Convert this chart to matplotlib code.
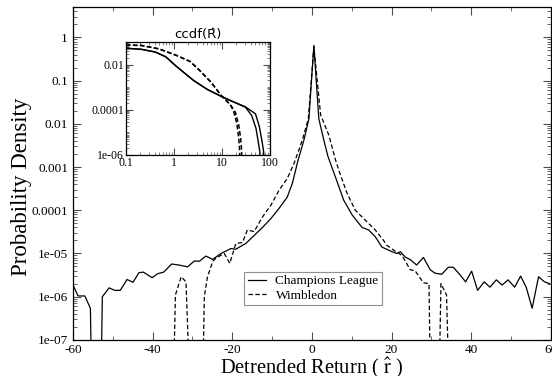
import matplotlib
matplotlib.use("Agg")
import matplotlib.pyplot as plt
from matplotlib.ticker import FixedLocator, FuncFormatter, MultipleLocator, LogLocator, NullFormatter

plt.rcParams['font.family'] = ['Liberation Serif', 'DejaVu Serif']
plt.rcParams['mathtext.fontset'] = 'stix'

FLOOR = 1e-9

# main panel: probability density of detrended returns
cl_x = [-60, -58.7, -57, -55.6, -55.1, -53.1, -52.6, -50.9, -49.5, -48.1, -46.4, -44.9,
        -43.4, -42.3, -40.1, -38.7, -37.2, -35.2, -33.4, -31.2, -29.5, -28.25, -26.6,
        -24.9, -22.8, -20.3, -19.1, -17.4, -16.6, -14.5, -12.4, -10.3, -8.25, -6.2,
        -4.9, -3.5, -2.0, -0.75, 0.5, 1.75, 3.0, 4.0, 5.9, 8.0, 10.1, 12.6, 14.25,
        15.9, 17.6, 18.4, 20.1, 21.3, 22.2, 23.4, 24.7, 26.3, 28.0, 29.7, 30.9, 32.6,
        34.25, 35.5, 37.2, 38.6, 40.1, 41.6, 43.25, 44.7, 46.3, 47.75, 49.25, 50.9,
        52.4, 53.8, 55.3, 56.9, 58.4, 59.7]
cl_y = [1.9e-6, 1.04e-6, 1.04e-6, 5.4e-7, FLOOR, FLOOR, 1.0e-6, 1.6e-6, 1.4e-6, 1.4e-6,
        2.5e-6, 2.15e-6, 3.6e-6, 3.7e-6, 2.75e-6, 3.4e-6, 3.7e-6, 5.7e-6, 5.4e-6, 4.9e-6,
        6.7e-6, 6.6e-6, 8.7e-6, 7.3e-6, 1.0e-5, 1.3e-5, 1.25e-5, 1.55e-5, 1.7e-5, 2.6e-5,
        4.0e-5, 6.4e-5, 1.1e-4, 2.0e-4, 4.2e-4, 1.4e-3, 4.2e-3, 0.013, 0.65, 0.013,
        4.2e-3, 1.8e-3, 5.9e-4, 1.7e-4, 7.8e-5, 4.0e-5, 3.5e-5, 2.45e-5, 1.4e-5, 1.3e-5,
        1.1e-5, 1.0e-5, 1.1e-5, 8.3e-6, 7.2e-6, 5.4e-6, 8.1e-6, 4.2e-6, 3.5e-6, 3.3e-6,
        4.8e-6, 4.8e-6, 3.2e-6, 2.2e-6, 3.9e-6, 1.4e-6, 2.2e-6, 1.66e-6, 2.45e-6, 1.86e-6,
        2.45e-6, 1.66e-6, 3.0e-6, 1.66e-6, 5.4e-7, 2.9e-6, 2.2e-6, 2.0e-6]

wb_x = [-35.6, -35.0, -34.25, -32.8, -31.6, -30.3, -27.6, -27.0, -26.2, -24.9, -24.1,
        -22.0, -20.6, -19.1, -17.4, -16.2, -14.5, -12.4, -10.3, -8.25, -6.2, -4.5,
        -3.25, -2.4, -0.9, 0.5, 2.2, 4.25, 5.9, 6.75, 8.8, 10.9, 13.4, 15.9, 18.0,
        18.8, 20.5, 22.6, 24.7, 25.9, 28.0, 29.4, 29.9, 31.75, 32.4, 33.8, 34.7, 35.5]
wb_y = [FLOOR, FLOOR, 1.1e-6, 2.9e-6, 2.2e-6, FLOOR, FLOOR, 1.0e-6, 2.9e-6, 6.5e-6,
        7.8e-6, 1.0e-5, 5.9e-6, 1.7e-5, 1.8e-5, 3.5e-5, 3.2e-5, 7.0e-5, 1.3e-4, 2.9e-4,
        5.4e-4, 1.2e-3, 2.5e-3, 4.2e-3, 0.013, 0.6, 0.016, 5.5e-3, 1.5e-3, 8.5e-4,
        2.5e-4, 1.0e-4, 5.9e-5, 3.5e-5, 2.0e-5, 1.55e-5, 1.2e-5, 9.0e-6, 4.2e-6, 4.0e-6,
        2.1e-6, 2.0e-6, FLOOR, FLOOR, 2.0e-6, 1.1e-6, FLOOR, FLOOR]

# inset: ccdf of normalised returns, two tails per series
ins_floor = 1e-8
cl_ccdf_x1 = [0.1, 0.211, 0.412, 0.676, 1.12, 2.57, 5.01, 9.77, 16.2, 30.9, 50.1, 60.3, 69.2, 74.1, 79]
cl_ccdf_y1 = [0.0537, 0.0479, 0.0363, 0.0224, 0.0085, 0.0020, 7.9e-4, 3.9e-4, 2.4e-4, 1.35e-4,
              6.6e-5, 1.78e-5, 3.5e-6, 1.35e-6, ins_floor]
cl_ccdf_x2 = [0.1, 0.211, 0.412, 0.676, 1.12, 2.57, 5.01, 9.77, 16.2, 30.9, 41.7, 51.3, 57.5, 61.7, 66]
cl_ccdf_y2 = [0.0537, 0.0479, 0.0363, 0.0224, 0.0085, 0.0020, 7.9e-4, 3.9e-4, 2.4e-4, 1.3e-4,
              5.6e-5, 1.5e-5, 3.5e-6, 1.35e-6, ins_floor]
wb_ccdf_x1 = [0.1, 0.211, 0.49, 1.12, 2.19, 3.55, 5.89, 9.77, 14.8, 19.1, 22.4, 24.5, 25.7, 27.5]
wb_ccdf_y1 = [0.074, 0.071, 0.050, 0.026, 0.0138, 0.0052, 0.0017, 4.2e-4, 1.74e-4, 7.8e-5,
              2.1e-5, 5.8e-6, 1.6e-6, ins_floor]
wb_ccdf_x2 = [0.1, 0.211, 0.49, 1.12, 2.19, 3.55, 5.89, 9.77, 14.8, 17.4, 20.4, 22.4, 23.4, 24.5]
wb_ccdf_y2 = [0.074, 0.071, 0.050, 0.026, 0.0138, 0.0052, 0.0017, 4.2e-4, 1.74e-4, 9.1e-5,
              2.5e-5, 5.8e-6, 1.6e-6, ins_floor]

main_yticks = [1e-7, 1e-6, 1e-5, 1e-4, 1e-3, 1e-2, 1e-1, 1]
main_ylabels = ['1e-07', '1e-06', '1e-05', '0.0001', '0.001', '0.01', '0.1', '1']
ins_xticks = [0.1, 1, 10, 100]
ins_xlabels = ['0.1', '1', '10', '100']
ins_yticks = [1e-6, 1e-4, 1e-2]
ins_ylabels = ['1e-06', '0.0001', '0.01']


fig = plt.figure(figsize=(5.52, 3.76), dpi=100)
ax = fig.add_axes([0.132, 0.096, 0.866, 0.885])

ax.plot(cl_x, cl_y, color='black', lw=0.9, label='Champions League')
ax.plot(wb_x, wb_y, color='black', lw=0.9, ls=(0, (3.5, 2)), label='Wimbledon')

ax.set_yscale('log')
ax.set_xlim(-60, 60)
ax.set_ylim(1e-7, 5)
ax.xaxis.set_major_locator(MultipleLocator(20))
ax.xaxis.set_minor_locator(MultipleLocator(10))
ax.xaxis.set_major_formatter(FuncFormatter(lambda v, p: '%d' % v))
ax.yaxis.set_major_locator(FixedLocator(main_yticks))
ax.set_yticklabels(main_ylabels)
ax.yaxis.set_minor_locator(LogLocator(base=10, subs=range(2, 10), numticks=20))
ax.yaxis.set_minor_formatter(NullFormatter())
ax.tick_params(which='both', direction='in', top=True, right=True, labelsize=9.5, color='0.3')
ax.tick_params(which='major', length=6, width=0.8)
ax.tick_params(which='minor', length=3, width=0.6)
ax.tick_params(axis='x', pad=3)
for s in ax.spines.values():
    s.set_linewidth(0.9)

ax.set_xlabel('Detrended Return ( $\\hat{\\mathrm{r}}$ )', fontsize=14.8, labelpad=0)
ax.set_ylabel('Probability Density', fontsize=16.5)
ax.yaxis.set_label_coords(-0.086, 0.46)

leg = ax.legend(loc='lower left', bbox_to_anchor=(0.359, 0.105), frameon=True, fancybox=False,
                fontsize=9.5, handlelength=1.4, handletextpad=0.7, borderpad=0.25,
                labelspacing=0.15, borderaxespad=0)
leg.get_frame().set_edgecolor('0.45')
leg.get_frame().set_linewidth(0.8)

# inset
ins = fig.add_axes([0.228, 0.588, 0.261, 0.300])
ins.plot(cl_ccdf_x1, cl_ccdf_y1, color='black', lw=1.0)
ins.plot(cl_ccdf_x2, cl_ccdf_y2, color='black', lw=1.0)
ins.plot(wb_ccdf_x1, wb_ccdf_y1, color='black', lw=1.1, ls=(0, (3, 1.6)))
ins.plot(wb_ccdf_x2, wb_ccdf_y2, color='black', lw=1.1, ls=(0, (3, 1.6)))
ins.set_xscale('log')
ins.set_yscale('log')
ins.set_xlim(0.1, 100)
ins.set_ylim(1e-6, 0.1)
ins.xaxis.set_major_locator(FixedLocator(ins_xticks))
ins.set_xticklabels(ins_xlabels)
ins.yaxis.set_major_locator(FixedLocator(ins_yticks))
ins.set_yticklabels(ins_ylabels)
ins.xaxis.set_minor_locator(LogLocator(base=10, subs=range(2, 10), numticks=20))
ins.yaxis.set_minor_locator(LogLocator(base=10, subs=range(1, 10), numticks=20))
ins.xaxis.set_minor_formatter(NullFormatter())
ins.yaxis.set_minor_formatter(NullFormatter())
ins.tick_params(which='both', direction='in', top=True, right=True, labelsize=8.5, color='0.3')
ins.tick_params(which='major', length=5, width=0.8, pad=1.5)
ins.tick_params(which='minor', length=2.5, width=0.5)
for s in ins.spines.values():
    s.set_linewidth(0.9)
ins.set_title('ccdf(R\u0302)', fontsize=9.5, family=['DejaVu Sans'], pad=3)

fig.savefig('out.png', dpi=100)
